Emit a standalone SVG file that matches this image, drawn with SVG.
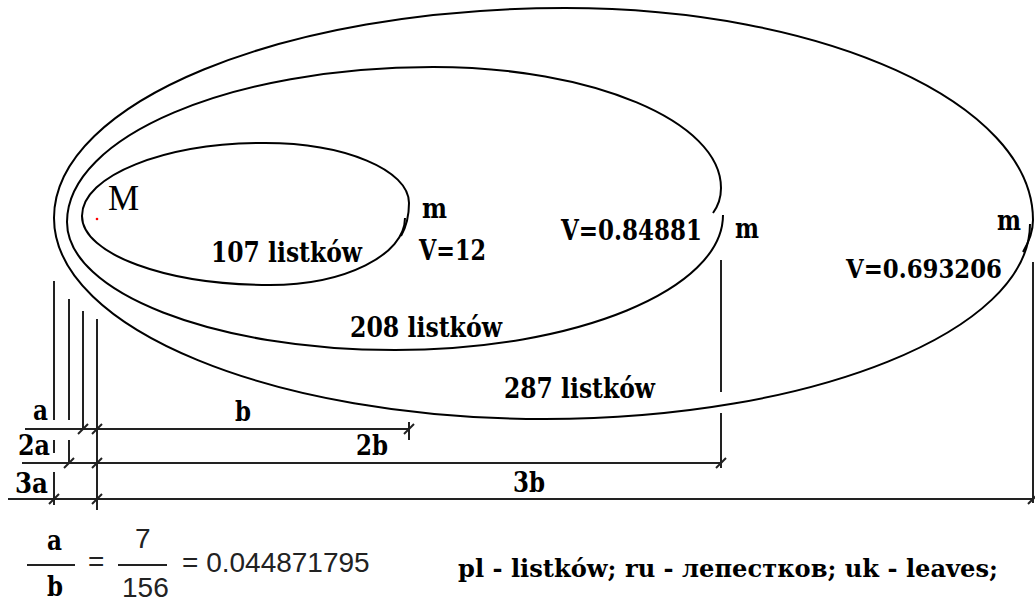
<svg xmlns="http://www.w3.org/2000/svg" width="1035" height="601" viewBox="0 0 1035 601">
<style>
.crv{fill:none;stroke:#000;stroke-width:2}
.dim{fill:none;stroke:#222;stroke-width:2}
.lbl{font-family:"DejaVu Serif",serif;font-weight:bold;font-size:28px;fill:#000}
.big{font-family:"Liberation Serif",serif;font-size:35px;fill:#000}
.frm{font-family:"Liberation Sans",sans-serif;font-size:28px;fill:#222}
</style>
<defs>
<path id="tick" d="M-5,5 L5,-5" class="dim"/>
</defs>
<rect width="1035" height="601" fill="#fff"/>

<g id="orbit-107">
<path class="crv" d="M82,216 C82,175.7 163.9,143 265,143 C344.5,143 409,169.9 409,203 Q409,222 401,236"/>
<path class="crv" d="M405,218 C405,255 344.6,285 270,285 C166.2,285 82,254.1 82,216"/>
</g>
<g id="orbit-208">
<path class="crv" d="M67,222 C67,136.4 230.9,67 433,67 C592.1,67 721,121.2 721,188 Q721,202 713,213"/>
<path class="crv" d="M723,215 C723,289.6 576,350 395,350 C213.8,350 67,292.7 67,222"/>
</g>
<g id="orbit-287">
<path class="crv" d="M54,218 C54,102 283,8 565,8 C823.5,8 1033,103 1033,220 Q1033,235 1023,252"/>
<path class="crv" d="M1030,224 C1030,331 812.9,419 545,419 C273.8,419 54,329 54,218"/>
</g>
<g id="focus-M">
<circle cx="97" cy="219" r="1.3" fill="#f00"/>
<text class="big" x="108" y="210">M</text>
</g>

<g id="labels">
<text class="lbl" x="422" y="218" textLength="25" lengthAdjust="spacingAndGlyphs">m</text>
<text class="lbl" x="419" y="260" textLength="67" lengthAdjust="spacingAndGlyphs">V=12</text>
<text class="lbl" x="211" y="262" textLength="151" lengthAdjust="spacingAndGlyphs">107 listków</text>
<text class="lbl" x="702" y="240" text-anchor="end" textLength="141" lengthAdjust="spacingAndGlyphs">V=0.84881</text>
<text class="lbl" x="735" y="238" textLength="24" lengthAdjust="spacingAndGlyphs">m</text>
<text class="lbl" x="350" y="337" textLength="152" lengthAdjust="spacingAndGlyphs">208 listków</text>
<text class="lbl" x="997" y="230" textLength="24" lengthAdjust="spacingAndGlyphs">m</text>
<text class="lbl" x="1002" y="278" text-anchor="end" style="font-size:26.5px" textLength="156" lengthAdjust="spacingAndGlyphs">V=0.693206</text>
<text class="lbl" x="504" y="398" textLength="151" lengthAdjust="spacingAndGlyphs">287 listków</text>
</g>

<g id="connectors">
<path class="dim" d="M54,281 V420 M69,299 V420 M83,311 V429 M97,319 V510"/>
<path class="dim" d="M54,440 V453 M69,440 V463 M54,472 V505"/>
<path class="dim" d="M25,429 H409 M409,422 V440"/>
<path class="dim" d="M22,463 H721 M721,260 V392 M721,413 V468"/>
<path class="dim" d="M8,499 H1033 M1033,262 V503"/>
<use href="#tick" x="83" y="429"/>
<use href="#tick" x="97" y="429"/>
<use href="#tick" x="409" y="429"/>
<use href="#tick" x="69" y="463"/>
<use href="#tick" x="97" y="463"/>
<use href="#tick" x="721" y="463"/>
<use href="#tick" x="54" y="499"/>
<use href="#tick" x="97" y="499"/>
<use href="#tick" x="1033" y="499"/>
</g>

<g id="dim-labels">
<text class="lbl" x="33" y="420" textLength="15" lengthAdjust="spacingAndGlyphs">a</text>
<text class="lbl" x="18" y="455" textLength="32" lengthAdjust="spacingAndGlyphs">2a</text>
<text class="lbl" x="15" y="493" textLength="33" lengthAdjust="spacingAndGlyphs">3a</text>
<text class="lbl" x="235" y="421" textLength="16" lengthAdjust="spacingAndGlyphs">b</text>
<text class="lbl" x="356" y="455" textLength="32" lengthAdjust="spacingAndGlyphs">2b</text>
<text class="lbl" x="513" y="492" textLength="32" lengthAdjust="spacingAndGlyphs">3b</text>
</g>

<g id="formula">
<text class="lbl" x="47" y="550" textLength="15" lengthAdjust="spacingAndGlyphs">a</text>
<path class="dim" d="M27,565 H75"/>
<text class="lbl" x="47" y="596" textLength="16" lengthAdjust="spacingAndGlyphs">b</text>
<text class="frm" x="88" y="571">=</text>
<text class="frm" x="135" y="548">7</text>
<path class="dim" d="M118,565 H167"/>
<text class="frm" x="122" y="597">156</text>
<text class="frm" x="182" y="572">= 0.044871795</text>
</g>

<g id="legend">
<text class="lbl" x="728" y="577" text-anchor="middle" style="font-size:24.5px" textLength="540" lengthAdjust="spacingAndGlyphs">pl - listków; ru - лепестков; uk - leaves;</text>
</g>
</svg>
